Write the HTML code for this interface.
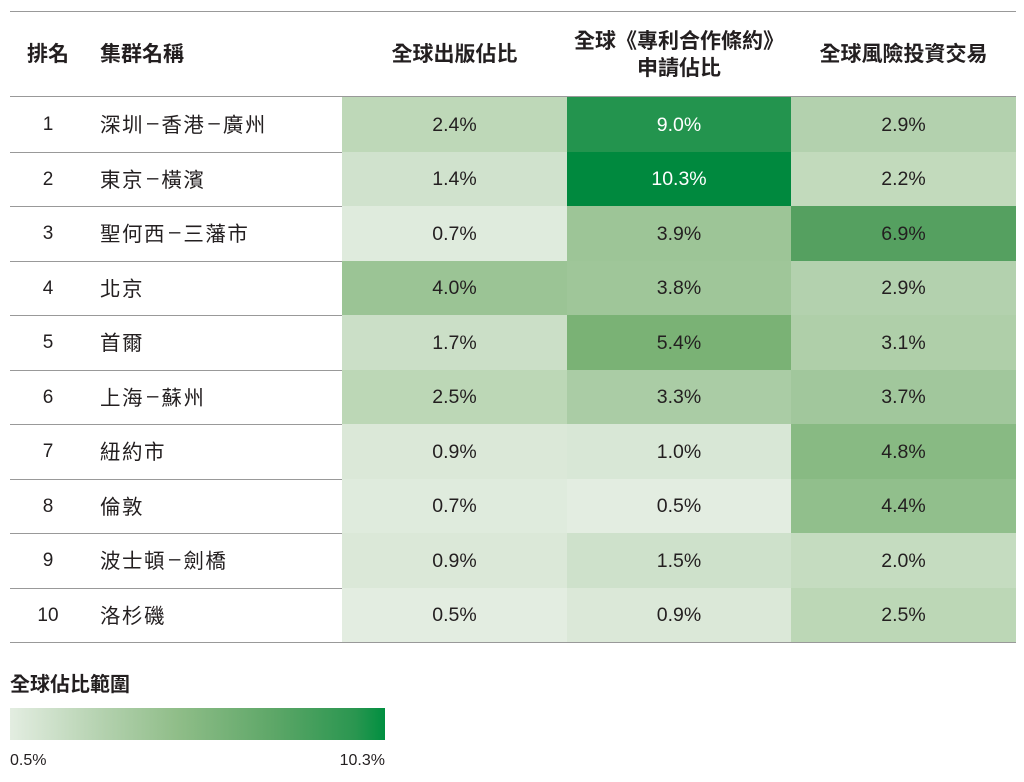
<!DOCTYPE html>
<html><head><meta charset="utf-8"><style>
body{margin:0;width:1024px;height:782px;background:#fff;font-family:"Liberation Sans","Noto Sans CJK TC",sans-serif;color:#231f20;position:relative;overflow:hidden}
.line{position:absolute;left:10px;width:1006px;height:1px;background:#999}
.cell{position:absolute;display:flex;align-items:center;justify-content:center;font-size:19.5px}
.h{position:absolute;font-weight:bold;font-size:21px;text-align:center;line-height:27px}
.name{position:absolute;left:100px;font-size:20.5px;letter-spacing:1.5px;display:flex;align-items:center}
.rank{position:absolute;left:20px;width:56px;text-align:center;font-size:19px;display:flex;align-items:center;justify-content:center}
</style></head><body>
<div class="line" style="top:11px"></div>
<div class="h" style="left:20px;width:56px;top:41px">排名</div>
<div class="h" style="left:100px;top:41px">集群名稱</div>
<div class="h" style="left:342px;width:225px;top:41px">全球出版佔比</div>
<div class="h" style="left:567px;width:224px;top:28px">全球《專利合作條約》<br>申請佔比</div>
<div class="h" style="left:791px;width:225px;top:41px">全球風險投資交易</div>
<div id="t"></div>
<div class="h" style="left:10px;top:672px;text-align:left;font-size:20px">全球佔比範圍</div>
<div style="position:absolute;left:10px;top:708px;width:375px;height:32px;background:linear-gradient(90deg,#e3ede1,#b3d1ae 25%,#8fbd88 45%,#5ea768 70%,#2a9650 92%,#008f40)"></div>
<div style="position:absolute;left:10px;top:752px;font-size:16px">0.5%</div>
<div style="position:absolute;left:300px;width:85px;text-align:right;top:752px;font-size:16px">10.3%</div>
<script>
var d=[["1","深圳 – 香港 – 廣州",2.4,9.0,2.9],["2","東京 – 橫濱",1.4,10.3,2.2],["3","聖何西 – 三藩市",0.7,3.9,6.9],["4","北京",4.0,3.8,2.9],["5","首爾",1.7,5.4,3.1],["6","上海 – 蘇州",2.5,3.3,3.7],["7","紐約市",0.9,1.0,4.8],["8","倫敦",0.7,0.5,4.4],["9","波士頓 – 劍橋",0.9,1.5,2.0],["10","洛杉磯",0.5,0.9,2.5]];
var A=[[0.5,[227,237,225]],[1.4,[208,226,205]],[2.4,[190,216,184]],[2.9,[179,209,174]],[3.9,[157,197,151]],[5.4,[122,178,117]],[6.9,[85,160,96]],[9.0,[35,148,78]],[10.3,[0,137,62]]];
function col(v){for(var i=0;i<A.length-1;i++){if(v<=A[i+1][0]){var t=(v-A[i][0])/(A[i+1][0]-A[i][0]);var c=A[i][1].map(function(x,k){return Math.round(x+(A[i+1][1][k]-x)*t)});return "rgb("+c+")";}}return "rgb(0,137,62)";}
var h="",xs=[342,567,791],ws=[225,224,225],top0=97,rh=54.5;
h+='<div class="line" style="top:96px"></div>';
d.forEach(function(r,i){var y=top0+i*rh;
h+='<div class="rank" style="top:'+(y+1)+'px;height:'+rh+'px">'+r[0]+'</div>';
h+='<div class="name" style="top:'+(y-1)+'px;height:'+rh+'px">'+r[1].replace(/ – /g,'<span style="letter-spacing:0;margin:0 3px">–</span>')+'</div>';
for(var j=0;j<3;j++){var v=r[2+j];h+='<div class="cell" style="left:'+xs[j]+'px;width:'+ws[j]+'px;top:'+y+'px;height:'+rh+'px;background:'+col(v)+';color:'+(v>=8?'#fff':'#231f20')+'"><span style="margin-top:2px">'+v.toFixed(1)+'%</span></div>';}
h+='<div class="line" style="top:'+Math.round(y+rh)+'px"></div>';});
document.getElementById("t").innerHTML=h;
</script>
</body></html>
